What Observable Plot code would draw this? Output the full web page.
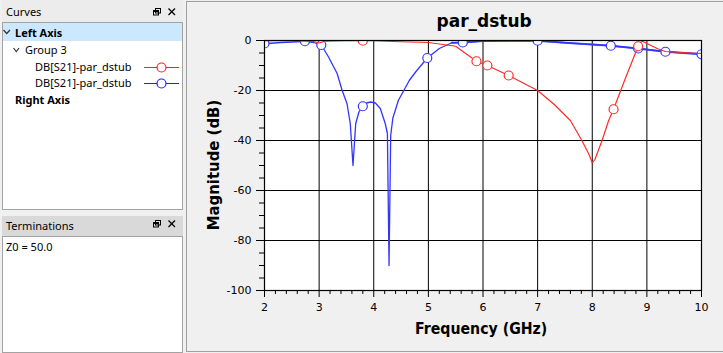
<!DOCTYPE html>
<html><head><meta charset="utf-8">
<script src="https://cdn.jsdelivr.net/npm/d3@7"></script>
<script src="https://cdn.jsdelivr.net/npm/@observablehq/plot@0.6"></script>
<style>
html,body{margin:0;padding:0;}
body{width:723px;height:353px;background:#f0f0f0;position:relative;overflow:hidden;font-family:"Noto Sans",sans-serif;font-size:11px;color:#000;}
.abs{position:absolute;}
.box{position:absolute;background:#fff;border:1px solid #a3a3a3;box-sizing:border-box;}
.t{position:absolute;white-space:nowrap;line-height:14px;}
</style></head><body>
<!-- Curves dock -->
<div class="abs" style="left:2px;top:0;width:181px;height:22px;background:#ececec"></div>
<div class="t" style="left:6px;top:5px">Curves</div>
<div class="box" style="left:2px;top:22px;width:181px;height:188px"></div>
<div class="abs" style="left:3px;top:23px;width:179px;height:18px;background:#cce8ff"></div>
<div class="t" style="left:15px;top:26px;font-weight:bold">Left Axis</div>
<div class="t" style="left:25px;top:43px">Group 3</div>
<div class="t" style="left:35px;top:60px">DB[S21]-par_dstub</div>
<div class="t" style="left:35px;top:76px">DB[S21]-par_dstub</div>
<div class="t" style="left:15px;top:93px;font-weight:bold">Right Axis</div>
<!-- Terminations dock -->
<div class="abs" style="left:2px;top:216px;width:181px;height:20px;background:#d9d9d9"></div>
<div class="t" style="left:6px;top:219px">Terminations</div>
<div class="box" style="left:2px;top:236px;width:181px;height:117px"></div>
<div class="t" style="left:6px;top:240px">Z0 = 50.0</div>
<svg class="abs" style="left:0;top:0" width="186" height="353">
  <g fill="none" stroke="#333" stroke-width="1.2">
    <polyline points="3.5,30 6.7,33.5 10,30"/>
    <polyline points="13.5,48 16.3,51.5 19,48"/>
  </g>
  <g stroke="#ff2020" stroke-width="1.2"><line x1="144" y1="67.5" x2="179" y2="67.5"/><circle cx="161.5" cy="67.5" r="4.5" fill="#fff"/></g>
  <g stroke="#2020ff" stroke-width="1.2"><line x1="144" y1="83.5" x2="179" y2="83.5"/><circle cx="161.5" cy="83.5" r="4.5" fill="#fff"/></g>
  <g id="icons" fill="none" stroke="#000" stroke-width="1"></g>
</svg>
<!-- chart panel -->
<div class="abs" style="left:186px;top:1px;width:537px;height:351px;border:1px solid #a0a0a0;box-sizing:border-box;border-right:none"></div>
<div id="chart" class="abs" style="left:186px;top:0"></div>
<script>
// ---- data ----
const redFreq = [2.0, 2.5, 2.9, 3.0, 3.1, 3.5, 4.0, 4.5, 5.0, 5.5, 5.88, 6.08, 6.47, 7.0, 7.3, 7.6, 7.81, 7.95, 8.0, 8.05, 8.18, 8.3, 8.39, 8.6, 8.84, 8.91, 9.0, 9.2, 9.34, 9.7, 10.0];
const redDb   = [-0.1, -0.1, -0.4, -1.0, -0.3, -0.1, -0.1, -0.5, -0.8, -2.3, -8.3, -10.0, -14.0, -20.0, -25.5, -32.0, -40.0, -46.0, -49.0, -47.5, -40.0, -32.0, -27.5, -15.5, -2.3, -0.2, -1.2, -3.3, -4.4, -4.9, -5.2];
const blueFreq = [2.0, 2.3, 2.6, 2.74, 2.9, 3.04, 3.17, 3.33, 3.42, 3.51, 3.57, 3.62, 3.67, 3.73, 3.80, 3.87, 3.94, 4.03, 4.12, 4.21, 4.25, 4.28, 4.31, 4.35, 4.45, 4.55, 4.65, 4.77, 4.98, 5.2, 5.43, 5.63, 6.0, 6.5, 7.0, 7.5, 8.0, 8.34, 8.84, 9.34, 10.0];
const blueDb   = [-1.3, -0.8, -0.5, -0.3, -0.8, -1.8, -6.5, -13.2, -19.9, -25.2, -33.2, -50.0, -33.2, -28.5, -26.3, -25.0, -24.6, -25.0, -27.2, -33.2, -37.2, -90.0, -38.0, -31.0, -24.0, -20.0, -16.0, -12.5, -7.0, -3.2, -0.9, -0.8, -0.2, -0.1, -0.1, -0.9, -1.6, -2.1, -3.2, -4.5, -5.5];
const redMarkFreq = [3.8, 5.88, 6.08, 6.47, 8.39, 8.84];
const redMarkDb   = [-0.1, -8.3, -10.0, -14.0, -27.5, -2.3];
const blueMarkFreq = [2.0, 2.74, 3.04, 3.80, 4.98, 5.63, 7.0, 8.34, 8.84, 9.34, 10.0];
const blueMarkDb   = [-1.2, -0.3, -1.8, -26.3, -7.0, -0.8, -0.1, -2.1, -3.2, -4.5, -5.5];
const xTicks = [2, 3, 4, 5, 6, 7, 8, 9, 10];
const yTicks = [0, -20, -40, -60, -80, -100];

const RED = "#ff2a2a", BLUE = "#3434ff";
const zip = (fs, vs) => fs.map((f, i) => ({f, db: vs[i]}));
const red = zip(redFreq, redDb), blue = zip(blueFreq, blueDb);
const redMarks = zip(redMarkFreq, redMarkDb), blueMarks = zip(blueMarkFreq, blueMarkDb);
const xMinor = d3.range(2, 10.001, 0.2).map(v => +v.toFixed(1)).filter(v => !xTicks.includes(v));
const yMinor = d3.range(-100, 0.001, 5).filter(v => !yTicks.includes(v));

const plot = Plot.plot({
  width: 537, height: 353,
  marginLeft: 78, marginRight: 22, marginTop: 40, marginBottom: 63,
  x: {domain: [2, 10], label: null},
  y: {domain: [-100, 0], label: null},
  style: {background: "transparent", fontFamily: "DejaVu Sans", fontSize: "11px", color: "black", overflow: "visible"},
  marks: [
    Plot.frame({fill: "white", stroke: "none"}),
    Plot.gridX(xTicks, {stroke: "black", strokeOpacity: 1}),
    Plot.gridY(yTicks, {stroke: "black", strokeOpacity: 1}),
    Plot.axisX(xTicks, {tickSize: 7, tickPadding: 6, tickFormat: d => String(d), label: null, stroke: "black"}),
    Plot.axisX(xMinor, {tickSize: 4, tickFormat: () => "", label: null, stroke: "black"}),
    Plot.axisY(yTicks, {tickSize: 8, tickPadding: 5, tickFormat: d => String(d), label: null, stroke: "black"}),
    Plot.axisY(yMinor, {tickSize: 5, tickFormat: () => "", label: null, stroke: "black"}),
    Plot.line(blue, {x: "f", y: "db", stroke: BLUE, strokeWidth: 1.3, clip: true}),
    Plot.line(blue.filter(d => d.f >= 5.4), {x: "f", y: "db", stroke: BLUE, strokeWidth: 2.2, strokeOpacity: 0.85, clip: true}),
    Plot.dot(blueMarks, {x: "f", y: "db", r: 4.5, stroke: BLUE, fill: "white", strokeWidth: 1.2, clip: true}),
    Plot.line(red, {x: "f", y: "db", stroke: RED, strokeWidth: 1.2, clip: true}),
    Plot.dot(redMarks, {x: "f", y: "db", r: 4.5, stroke: RED, fill: "white", strokeWidth: 1.2, clip: true}),
    Plot.frame({stroke: "black", strokeWidth: 1.2})
  ]
});
document.getElementById("chart").appendChild(plot);

// header icons (restore + close)
const icons = d3.select("#icons");
[9, 221].forEach(y0 => {
  icons.append("rect").attr("x", 155.5).attr("y", y0 - 0.5).attr("width", 5).attr("height", 4.5);
  icons.append("rect").attr("x", 153.5).attr("y", y0 + 1.5).attr("width", 5).attr("height", 4.5).attr("fill", "none");
  icons.append("line").attr("x1", 153.5).attr("y1", y0 + 2).attr("x2", 158.5).attr("y2", y0 + 2).attr("stroke-width", 2);
  icons.append("line").attr("x1", 168.5).attr("y1", y0 - 0.5).attr("x2", 175).attr("y2", y0 + 6).attr("stroke-width", 1.3);
  icons.append("line").attr("x1", 175).attr("y1", y0 - 0.5).attr("x2", 168.5).attr("y2", y0 + 6).attr("stroke-width", 1.3);
});

// chart texts
function label(text, size, targetW, pos) {
  const s = document.createElement("div");
  s.textContent = text;
  Object.assign(s.style, {position: "absolute", whiteSpace: "nowrap", lineHeight: "20px", left: "0px", top: "0px",
    fontFamily: "'DejaVu Sans', sans-serif", fontWeight: "bold", fontSize: size + "px", color: "#000"});
  const m = document.createElement("span");
  Object.assign(m.style, {display: "inline-block", width: "0px", height: "0px", verticalAlign: "baseline"});
  s.appendChild(m);
  document.body.appendChild(s);
  const w = s.offsetWidth, h = s.offsetHeight, b = m.offsetTop;
  const k = targetW / w;
  if (pos.rotate) {
    const cx = pos.baseX - (b - h / 2);
    s.style.left = (cx - w / 2) + "px";
    s.style.top = (pos.cy - h / 2) + "px";
    s.style.transform = `rotate(-90deg) scaleX(${k})`;
  } else {
    s.style.left = (pos.cx - w / 2) + "px";
    s.style.top = (pos.baseY - b) + "px";
    s.style.transform = `scaleX(${k})`;
  }
}
label("par_dstub", 17, 95, {cx: 484, baseY: 27});
label("Frequency (GHz)", 15, 132, {cx: 481, baseY: 333.5});
label("Magnitude (dB)", 15, 130, {rotate: true, baseX: 218.5, cy: 165});
</script>
</body></html>
